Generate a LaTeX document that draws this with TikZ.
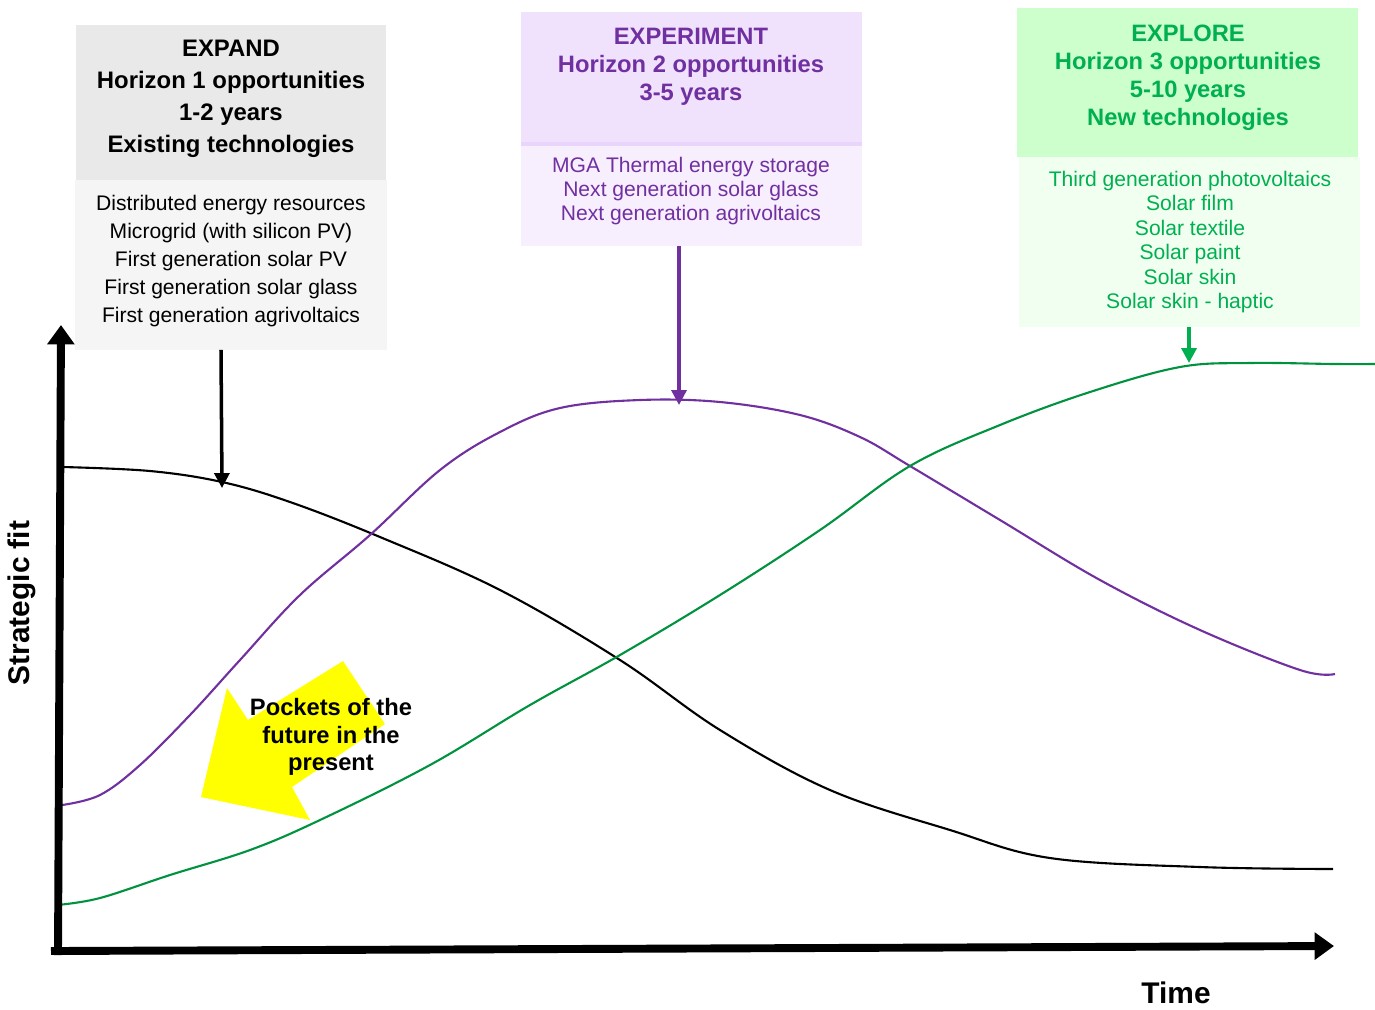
\documentclass[tikz,border=0pt]{standalone}
\usepackage{fontspec}
\setmainfont{Liberation Sans}
\usetikzlibrary{arrows.meta}
\definecolor{greyhead}{HTML}{E9E9E9}
\definecolor{greybody}{HTML}{F5F5F5}
\definecolor{purphead}{HTML}{F0E1FD}
\definecolor{purpsep}{HTML}{E9D5FB}
\definecolor{purpbody}{HTML}{F8EFFE}
\definecolor{greenhead}{HTML}{CCFFCC}
\definecolor{greenbody}{HTML}{F1FFF1}
\definecolor{purptext}{HTML}{7030A0}
\definecolor{greentext}{HTML}{00B050}
\definecolor{greencurve}{HTML}{00923F}
\definecolor{yellowarrow}{HTML}{FFFF00}
\begin{document}
\begin{tikzpicture}[x=0.02cm,y=-0.02cm,
  panel/.style={inner sep=0pt, outer sep=0pt, anchor=north west},
  headtxt/.style={align=center, font=\fontsize{13.5}{15.9}\selectfont\bfseries},
  bodytxt/.style={align=center, font=\fontsize{12}{13.9}\selectfont},
  curve/.style={line width=1.2pt},
  ptr/.style={line width=2pt, -{Triangle[length=8.5pt,width=8.5pt]}},
  axis/.style={line width=4.5pt, -{Triangle[length=11pt,width=15pt]}},
  axislabel/.style={font=\fontsize{17}{20}\selectfont\bfseries}
]
\useasboundingbox (0,0) rectangle (1375,1009);

% ---- panels ----
\node[panel, fill=greyhead, minimum width=6.2cm, minimum height=3.1cm] (h1head) at (76,25) {};
\node[panel, fill=greybody, minimum width=6.24cm, minimum height=3.4cm] (h1body) at (75,180) {};
\node[panel, fill=purphead, minimum width=6.82cm, minimum height=2.62cm] (h2head) at (521,12) {};
\node[panel, fill=purpbody, minimum width=6.82cm, minimum height=2.02cm] (h2body) at (521,145) {};
\fill[purpsep] (521,142) rectangle (862,146);
\node[panel, fill=greenhead, minimum width=6.82cm, minimum height=2.98cm] (h3head) at (1017,8) {};
\node[panel, fill=greenbody, minimum width=6.82cm, minimum height=3.4cm] (h3body) at (1019,157) {};

% ---- texts ----
\node[headtxt, font=\fontsize{13.6}{18.1}\selectfont\bfseries] (t1head) at (231,99)
  {EXPAND\\Horizon 1 opportunities\\1-2 years\\Existing technologies};
\node[bodytxt, font=\fontsize{12}{15.9}\selectfont] (t1body) at (231,261)
  {Distributed energy resources\\Microgrid (with silicon PV)\\First generation solar PV\\First generation solar glass\\First generation agrivoltaics};
\node[headtxt, text=purptext] (t2head) at (691,67)
  {EXPERIMENT\\Horizon 2 opportunities\\3-5 years};
\node[bodytxt, text=purptext] (t2body) at (691,191)
  {MGA Thermal energy storage\\Next generation solar glass\\Next generation agrivoltaics};
\node[headtxt, text=greentext] (t3head) at (1188,78)
  {EXPLORE\\Horizon 3 opportunities\\5-10 years\\New technologies};
\node[bodytxt, text=greentext] (t3body) at (1190,242)
  {Third generation photovoltaics\\Solar film\\Solar textile\\Solar paint\\Solar skin\\Solar skin - haptic};

% ---- yellow arrow ----
\fill[yellowarrow] (343,661) -- (385,724) -- (292,787) -- (310,820) -- (201,797) -- (227,688) -- (248,720) -- cycle;
\node[align=center, font=\fontsize{13.5}{15.6}\selectfont\bfseries] (pockets) at (331,737)
  {Pockets of the\\future in the\\present};

% ---- curves ----
\draw[curve, black] plot[smooth, tension=0.6] coordinates {
  (63,467) (150,471) (222,482) (290,502) (380,537) (500,590) (620,660) (720,730)
  (830,790) (950,830) (1050,858) (1200,867) (1333,869)};
\draw[curve, purptext] plot[smooth, tension=0.6] coordinates {
  (62,805) (100,795) (140,765) (190,715) (240,660) (300,595) (370,535) (440,470)
  (500,432) (560,408) (640,400) (720,402) (800,415) (860,437) (910,466) (1000,520)
  (1100,580) (1200,630) (1300,670) (1335,674)};
\draw[curve, greencurve] plot[smooth, tension=0.6] coordinates {
  (57,905) (100,898) (170,875) (250,850) (320,820) (430,765) (530,705) (620,655)
  (720,595) (820,530) (910,466) (1000,425) (1090,392) (1180,367) (1250,363)
  (1335,364) (1375,364)};

% ---- pointers ----
\coordinate (p1) at (222,488);
\coordinate (p2) at (679,405);
\coordinate (p3) at (1189,363);
\draw[ptr, black] (h1body.south -| 221,0) -- (p1);
\draw[ptr, purptext] (h2body.south -| p2) -- (p2);
\draw[ptr, greentext] (h3body.south -| p3) -- (p3);

% ---- axes ----
\coordinate (origin) at (58,951);
\coordinate (ytop) at (61,325);
\coordinate (xend) at (1334,946);
\draw[axis] (58,955) -- (ytop);
\draw[axis] (51,951) -- (xend);
\node[axislabel, rotate=90] (ylab) at (22,603) {Strategic fit};
\node[axislabel] (xlab) at (1176,993) {Time};
\end{tikzpicture}
\end{document}
